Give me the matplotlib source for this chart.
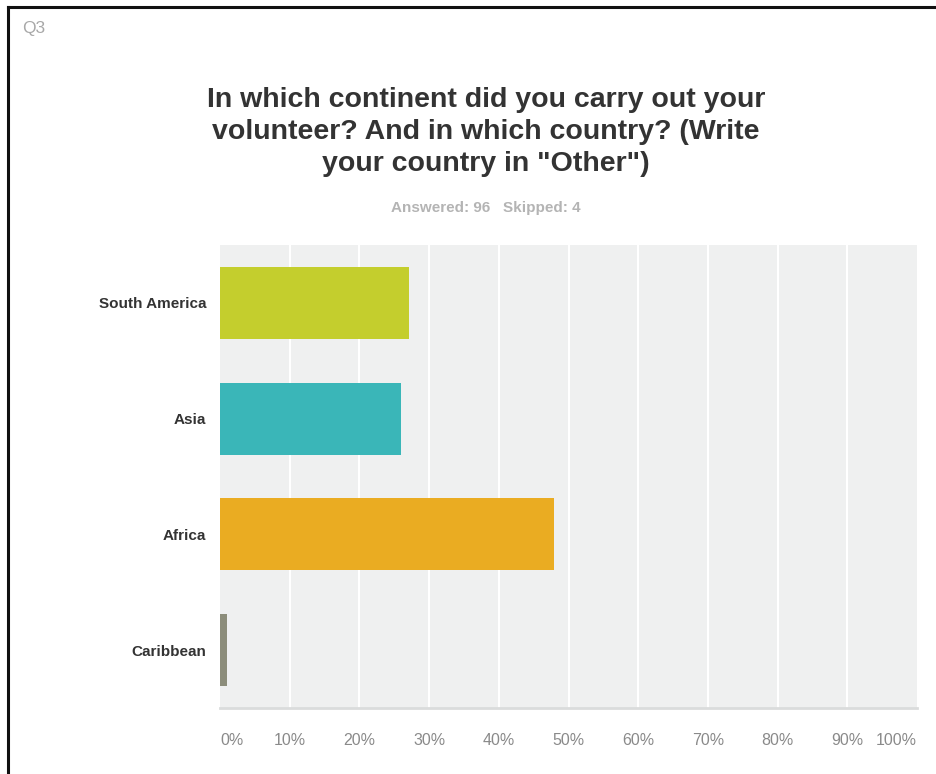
import matplotlib.pyplot as plt
from matplotlib.lines import Line2D

# survey answers, share of respondents (Answered: 96)
continents = ['South America', 'Asia', 'Africa', 'Caribbean']
percent = [27.08, 26.04, 47.92, 1.04]
colors = ['#c4ce2d', '#3ab6b8', '#eaac22', '#8c8d7b']
tick_vals = [0, 10, 20, 30, 40, 50, 60, 70, 80, 90, 100]

W, H = 936, 774
fig = plt.figure(figsize=(W / 100, H / 100), dpi=100)
plt.rcParams['font.family'] = ['Liberation Sans', 'DejaVu Sans']

# frame round the card (only top and left edges show)
fig.add_artist(Line2D([8 / W, 8 / W], [0, 1 - 7 / H], color='#111111', lw=2.2,
                      transform=fig.transFigure, solid_capstyle='projecting'))
fig.add_artist(Line2D([8 / W, 1], [1 - 7 / H, 1 - 7 / H], color='#111111', lw=2.2,
                      transform=fig.transFigure, solid_capstyle='projecting'))

fig.text(22 / W, 1 - 28 / H, 'Q3', fontsize=12.5, color='#a8a8a8', va='center')
fig.text(486 / W, 1 - 132 / H,
         'In which continent did you carry out your\nvolunteer? And in which country? (Write\nyour country in "Other")',
         ha='center', va='center', fontsize=20.5, fontweight='bold', color='#333333',
         linespacing=1.28)
fig.text(486 / W, 1 - 208 / H, 'Answered: 96   Skipped: 4', ha='center', va='center',
         fontsize=11, fontweight='bold', color='#b4b4b4')

ax = fig.add_axes([220 / W, 66 / H, 697 / W, 463 / H])
ax.set_facecolor('#eff0f0')
ypos = list(range(len(continents)))
ax.barh(ypos, percent, height=0.62, color=colors, zorder=3)
ax.set_ylim(len(continents) - 0.5, -0.5)
ax.set_xlim(0, 100)

for v in tick_vals[1:-1]:
    ax.axvline(v, color='white', lw=1.5, zorder=1)

for s in ['top', 'right', 'left']:
    ax.spines[s].set_visible(False)
ax.spines['bottom'].set_color('#dadcdc')
ax.spines['bottom'].set_linewidth(2)

ax.set_yticks(ypos)
ax.set_yticklabels(continents, fontsize=11, fontweight='bold', color='#333333')
ax.tick_params(axis='y', length=0, pad=10)

ax.set_xticks(tick_vals)
ax.set_xticklabels([f'{v}%' for v in tick_vals], fontsize=11.5, color='#8a8a8a')
ax.tick_params(axis='x', length=0, pad=18)
labels = ax.get_xticklabels()
labels[0].set_ha('left')
labels[-1].set_ha('right')

fig.savefig('out.png', dpi=100)
